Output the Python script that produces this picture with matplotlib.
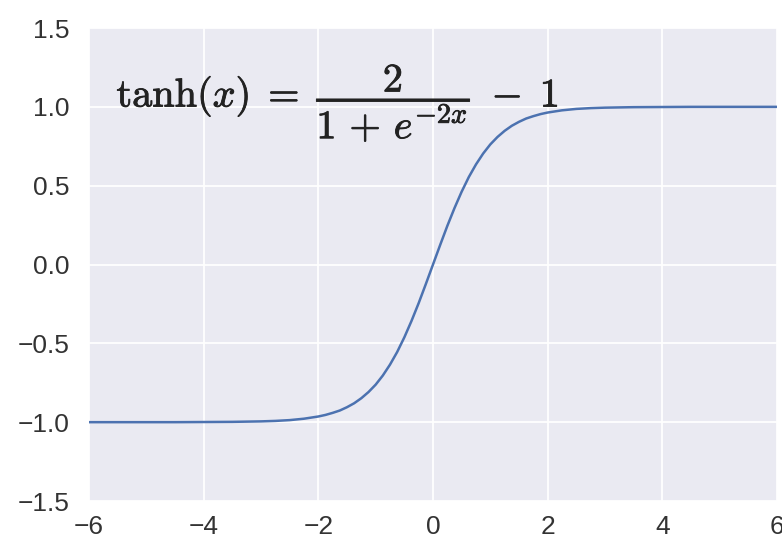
import matplotlib
matplotlib.use("Agg")
import matplotlib.pyplot as plt
import matplotlib.patheffects as pe

# Values
x_vals = [-6.0, -5.5, -5.0, -4.5, -4.0, -3.5, -3.0, -2.75, -2.5, -2.25, -2.0, -1.875, -1.75, -1.625,
          -1.5, -1.375, -1.25, -1.125, -1.0, -0.875, -0.75, -0.625, -0.5, -0.375, -0.25, -0.125,
          0.0, 0.125, 0.25, 0.375, 0.5, 0.625, 0.75, 0.875, 1.0, 1.125, 1.25, 1.375,
          1.5, 1.625, 1.75, 1.875, 2.0, 2.25, 2.5, 2.75, 3.0, 3.5, 4.0, 4.5, 5.0, 5.5, 6.0]
y_vals = [-1.00, -1.00, -1.00, -1.00, -0.999, -0.998, -0.995, -0.992, -0.987, -0.978, -0.964, -0.954, -0.941, -0.926,
          -0.905, -0.880, -0.848, -0.809, -0.762, -0.704, -0.635, -0.555, -0.462, -0.358, -0.245, -0.124,
          0.0, 0.124, 0.245, 0.358, 0.462, 0.555, 0.635, 0.704, 0.762, 0.809, 0.848, 0.880,
          0.905, 0.926, 0.941, 0.954, 0.964, 0.978, 0.987, 0.992, 0.995, 0.998, 0.999, 1.00, 1.00, 1.00, 1.00]
x_ticks = [-6, -4, -2, 0, 2, 4, 6]
y_ticks = [-1.5, -1.0, -0.5, 0.0, 0.5, 1.0, 1.5]
formula = r"$\tanh(x)\;=\;\dfrac{2}{1\,+\,e^{-2x}}\;-\;1$"

plt.rcParams['font.family'] = ['Liberation Sans', 'DejaVu Sans']
plt.rcParams['mathtext.fontset'] = 'cm'
plt.rcParams['axes.unicode_minus'] = True

fig = plt.figure(figsize=(7.82, 5.39), dpi=100)
ax = fig.add_axes([0.1138, 0.0705, 0.8798, 0.8775])
ax.set_facecolor('#eaeaf2')
for s in ax.spines.values():
    s.set_visible(False)
ax.grid(True, color='white', linewidth=1.3)
ax.set_axisbelow(True)

ax.plot(x_vals, y_vals, color='#4c72b0', linewidth=1.8)

ax.set_xlim(-6, 6)
ax.set_ylim(-1.5, 1.5)
ax.set_xticks(x_ticks)
ax.set_yticks(y_ticks)
ax.set_xticklabels([f"{t}".replace('-', '\u2212') for t in x_ticks])
ax.set_yticklabels([f"{t:.1f}".replace('-', '\u2212') for t in y_ticks])
ax.tick_params(axis='both', length=0, labelsize=19, colors='#333333', pad=10)
ax.tick_params(axis='y', pad=14)

t = ax.text(-5.52, 1.0, formula, fontsize=29, color='#222222', ha='left', va='baseline')
t.set_path_effects([pe.withStroke(linewidth=0.6, foreground='#222222')])

fig.savefig("out.png", dpi=100)
